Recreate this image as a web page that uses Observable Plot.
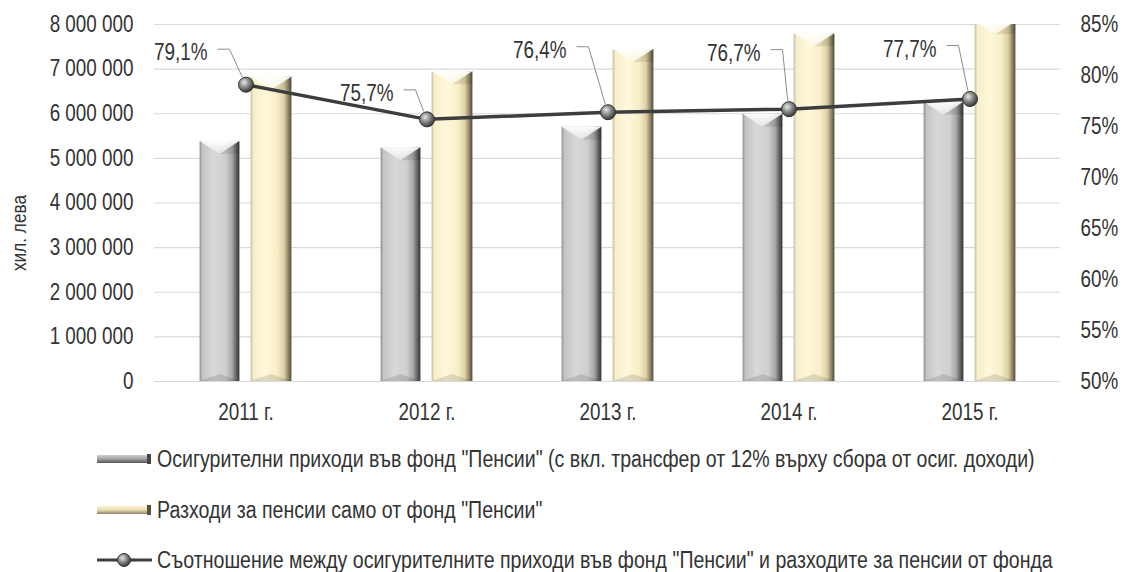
<!DOCTYPE html>
<html><head><meta charset="utf-8">
<script src="https://cdn.jsdelivr.net/npm/d3@7"></script>
<script src="https://cdn.jsdelivr.net/npm/@observablehq/plot@0.6"></script>
<style>
body{margin:0;background:#fff;font-family:"Liberation Sans",Arial,sans-serif;color:#333;}
#wrap{position:relative;width:1123px;height:572px;overflow:hidden;}
.leg{position:absolute;left:97px;height:30px;display:flex;align-items:center;font-size:23px;white-space:nowrap;color:#333;}
.leg svg{margin-right:5px;flex:none}
.leg span{display:inline-block;transform:scaleX(0.85);transform-origin:0 50%;}
#ylab{position:absolute;left:19px;top:233px;font-size:21px;white-space:nowrap;color:#333;transform:translate(-50%,-50%) rotate(-90deg) scaleX(0.82);}
</style></head><body>
<svg width="0" height="0" style="position:absolute">
<defs>
<linearGradient id="gGray" x1="0" x2="1" y1="0" y2="0">
<stop offset="0" stop-color="#8f8f8f"/><stop offset="0.07" stop-color="#c4c4c4"/><stop offset="0.35" stop-color="#d8d8d8"/><stop offset="0.65" stop-color="#cfcfcf"/><stop offset="0.82" stop-color="#a6a6a6"/><stop offset="0.93" stop-color="#5e5e5e"/><stop offset="1" stop-color="#333"/>
</linearGradient>
<linearGradient id="gYel" x1="0" x2="1" y1="0" y2="0">
<stop offset="0" stop-color="#c9bf98"/><stop offset="0.07" stop-color="#f6eecb"/><stop offset="0.35" stop-color="#fef8db"/><stop offset="0.65" stop-color="#f8efc9"/><stop offset="0.82" stop-color="#ddd1a3"/><stop offset="0.93" stop-color="#8c8164"/><stop offset="1" stop-color="#4f4a3c"/>
</linearGradient>
<linearGradient id="gGrayL" x1="0" x2="0" y1="0" y2="1">
<stop offset="0" stop-color="#d0d0d0"/><stop offset="0.5" stop-color="#a0a0a0"/><stop offset="1" stop-color="#555"/>
</linearGradient>
<linearGradient id="gYelL" x1="0" x2="0" y1="0" y2="1">
<stop offset="0" stop-color="#fbf4d4"/><stop offset="0.5" stop-color="#e6dcb0"/><stop offset="1" stop-color="#8c8164"/>
</linearGradient>
<linearGradient id="gTop" x1="0" x2="0" y1="0" y2="1">
<stop offset="0" stop-color="#fff" stop-opacity="0.95"/><stop offset="1" stop-color="#fff" stop-opacity="0.35"/>
</linearGradient>
<radialGradient id="ball" cx="0.38" cy="0.35" r="0.65">
<stop offset="0" stop-color="#e8e8e8"/><stop offset="0.5" stop-color="#8a8a8a"/><stop offset="1" stop-color="#3a3a3a"/>
</radialGradient>
</defs></svg>
<div id="wrap"><div id="chart"></div>
<div id="ylab"></div>
<div class="leg" style="top:444px"><svg width="55" height="10"><rect x="0" y="1" width="54" height="8" fill="url(#gGrayL)"/><rect x="50" y="0" width="4" height="10" fill="#444"/></svg><span>Осигурителни приходи във фонд "Пенсии" (с вкл. трансфер от 12% върху сбора от осиг. доходи)</span></div>
<div class="leg" style="top:495px"><svg width="55" height="10"><rect x="0" y="1" width="54" height="8" fill="url(#gYelL)"/><rect x="50" y="0" width="4" height="10" fill="#5a5240"/></svg><span>Разходи за пенсии само от фонд "Пенсии"</span></div>
<div class="leg" style="top:545px"><svg width="55" height="16"><line x1="0" x2="55" y1="8" y2="8" stroke="#3d3d3d" stroke-width="3"/><circle cx="27" cy="8" r="6.5" fill="url(#ball)" stroke="#333" stroke-width="1"/></svg><span>Съотношение между осигурителните приходи във фонд "Пенсии" и разходите за пенсии от фонда</span></div>
</div>
<script>
const years = ["2011 г.", "2012 г.", "2013 г.", "2014 г.", "2015 г."];
const revenues = [5380000, 5240000, 5700000, 5990000, 6260000];
const expenses = [6820000, 6940000, 7440000, 7790000, 8060000];
const ratios = [79.1, 75.7, 76.4, 76.7, 77.7];
const yTicks = [0, 1000000, 2000000, 3000000, 4000000, 5000000, 6000000, 7000000, 8000000];
const pctTicks = [50, 55, 60, 65, 70, 75, 80, 85];
const yLabel = "хил. лева";

document.getElementById("ylab").textContent = yLabel;

const data = years.map((year, i) => ({year, revenue: revenues[i], expense: expenses[i], ratio: ratios[i]}));
const pctToY = d3.scaleLinear([50, 85], [0, 8000000]);
const fmtNum = d3.formatLocale({thousands: "\u00a0", grouping: [3], decimal: ","}).format(",");
const fmtPct = d3.formatLocale({thousands: " ", grouping: [3], decimal: ","}).format(".1f");

function bevel(index, scales, values, dims, context, next) {
  const g = next(index, scales, values, dims, context);
  const sel = d3.select(g);
  const rects = [];
  sel.selectAll("rect").each(function () {
    rects.push([+this.getAttribute("x"), +this.getAttribute("y"), +this.getAttribute("width"), +this.getAttribute("height")]);
  });
  for (const [x, y, w, h] of rects) {
    const d = Math.min(13, w / 2.8), xc = x + w / 2, yb = y + h, db = 7;
    sel.append("path").attr("d", `M${x},${y}L${x + w},${y}L${xc},${y + d}Z`).attr("fill", "url(#gTop)");
    sel.append("path").attr("d", `M${x + w},${y}L${xc},${y + d}L${x + w},${y + d}Z`).attr("fill", "#000").attr("fill-opacity", 0.1);
    sel.append("path").attr("d", `M${x},${yb}L${x + w},${yb}L${xc},${yb - db}Z`).attr("fill", "#000").attr("fill-opacity", 0.12);
  }
  return g;
}

function labels(index, scales, values) {
  const nudges = [[-38, -32], [-33, -26], [-41, -62], [-28, -56], [-33, -50]];
  const bw = scales.x && scales.x.bandwidth ? (typeof scales.x.bandwidth === "function" ? scales.x.bandwidth() : scales.x.bandwidth) : 0;
  const g = d3.create("svg:g");
  for (const i of index) {
    const px = values.x[i] + bw / 2, py = values.y[i];
    const [ox, oy] = nudges[i];
    const tx = px + ox, ty = py + oy;
    g.append("text").attr("transform", `translate(${tx},${ty})`).attr("dy", "0.35em").attr("text-anchor", "end")
      .attr("fill", "#333").attr("font-size", 23).text(fmtPct(data[i].ratio) + "%");
    const lx0 = tx + 10, lx1 = tx + 22, ly = ty - 3;
    const ddx = px - lx1, ddy = py - ly, len = Math.hypot(ddx, ddy);
    const ex = px - ddx / len * 8, ey = py - ddy / len * 8;
    g.append("path").attr("d", `M${lx0},${ly}H${lx1}L${ex},${ey}`).attr("fill", "none").attr("stroke", "#8c8c8c").attr("stroke-width", 1);
  }
  return g.node();
}

const chart = Plot.plot({
  width: 1123,
  height: 430,
  marginTop: 24,
  marginBottom: 49,
  marginLeft: 154,
  marginRight: 63,
  style: {fontSize: "23px", fontFamily: '"Liberation Sans",Arial,sans-serif', color: "#333", background: "#fff"},
  x: {type: "band", domain: years, padding: 0},
  y: {domain: [0, 8000000]},
  marks: [
    Plot.gridY(yTicks, {stroke: "#d9d9d9", strokeOpacity: 1, strokeWidth: 1.2}),
    Plot.axisY(yTicks, {anchor: "left", tickSize: 0, tickPadding: 21, tickFormat: fmtNum, label: null}),
    Plot.axisY(pctTicks.map(pctToY), {anchor: "right", tickSize: 0, tickPadding: 20, tickFormat: v => Math.round(pctToY.invert(v)) + "%", label: null}),
    Plot.axisX({anchor: "bottom", tickSize: 0, tickPadding: 22, label: null}),
    Plot.barY(data, {x: "year", y: "revenue", fill: "url(#gGray)", insetLeft: 44.6, insetRight: 96.6, clip: true, render: bevel}),
    Plot.barY(data, {x: "year", y: "expense", fill: "url(#gYel)", insetLeft: 95.6, insetRight: 44.6, clip: true, render: bevel}),
    Plot.line(data, {x: "year", y: d => pctToY(d.ratio), stroke: "#3d3d3d", strokeWidth: 3.5}),
    Plot.dot(data, {x: "year", y: d => pctToY(d.ratio), r: 7.5, fill: "url(#ball)", stroke: "#333", strokeWidth: 1}),
    Plot.dot(data, {x: "year", y: d => pctToY(d.ratio), r: 0, render: labels})
  ]
});
// condense all texts horizontally to mimic a narrow typeface (scale about each text's own anchor)
d3.select(chart).selectAll("text").each(function () {
  const t = this.getAttribute("transform") || "";
  const xa = this.getAttribute("x");
  let pre = "";
  if (xa !== null && /^-?[\d.]+$/.test(xa)) { pre = ` translate(${xa},0)`; this.removeAttribute("x"); }
  this.setAttribute("transform", `${t}${pre} scale(0.82,1)`);
});
document.getElementById("chart").appendChild(chart);
</script>
</body></html>
